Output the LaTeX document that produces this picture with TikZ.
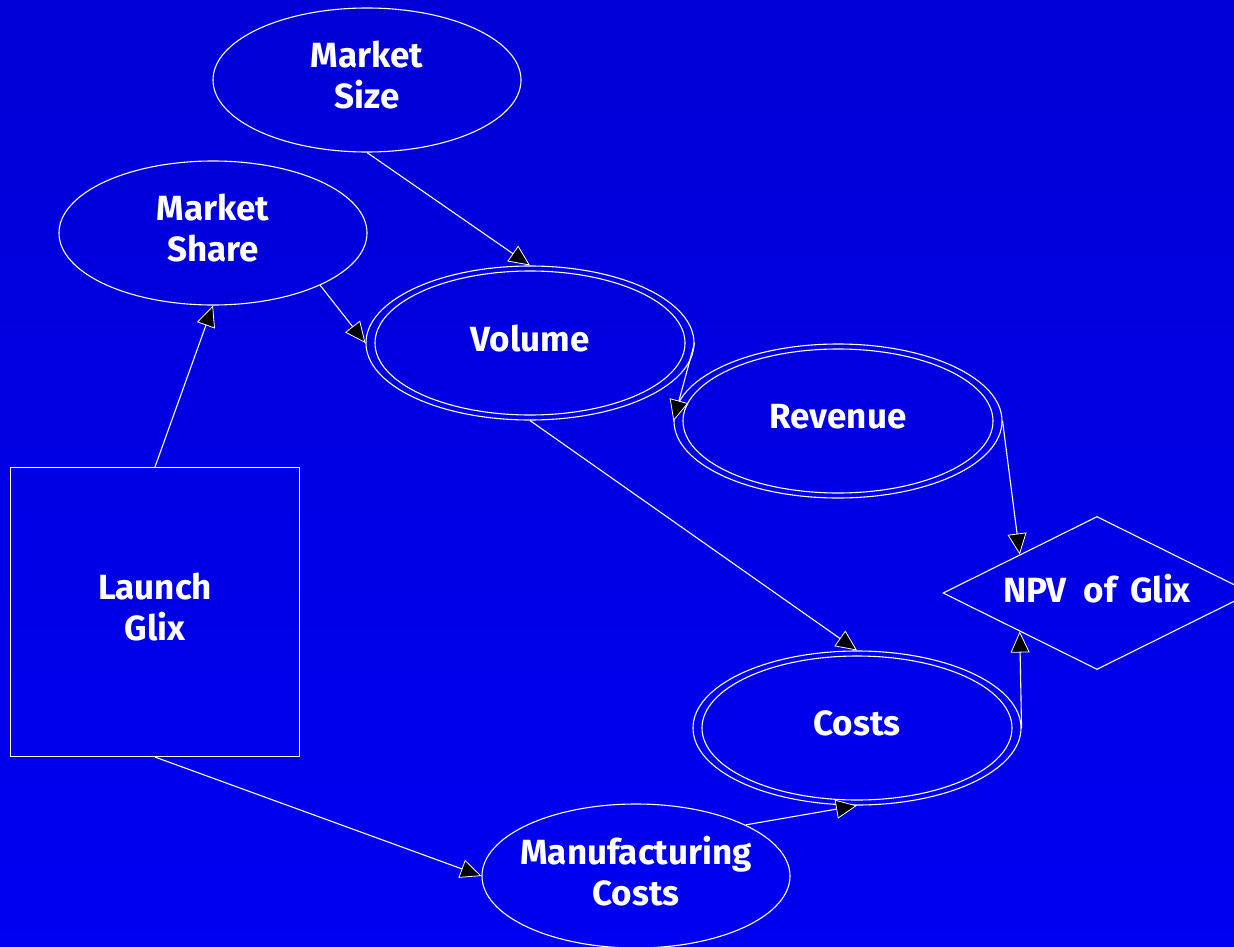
\documentclass[tikz,border=0pt]{standalone}
\usepackage{fontspec}
\setmainfont{Fira Sans}
\usetikzlibrary{shapes.geometric,arrows.meta}
\definecolor{bgtop}{RGB}{0,0,214}
\definecolor{bgbot}{RGB}{0,0,242}
\begin{document}
\begin{tikzpicture}[x=1pt,y=-1pt,
  every node/.style={text=white, font=\fontsize{35}{41}\selectfont\bfseries, align=center, inner sep=0pt, text depth=10pt},
  chance/.style={ellipse, draw=white, line width=1.1pt, minimum width=308pt, minimum height=144pt},
  calc/.style={ellipse, draw=white, line width=1.1pt, minimum width=328pt, minimum height=154pt},
  calcin/.style={ellipse, draw=white, line width=1.1pt, minimum width=310pt, minimum height=144pt},
  decision/.style={rectangle, draw=white, line width=1.1pt, minimum width=289pt, minimum height=289pt},
  valuenode/.style={diamond, draw=white, line width=1.1pt, minimum width=308pt, minimum height=153pt, aspect=2},
  link/.style={draw=white, line width=1.1pt, -{Triangle[length=21pt,width=19pt,fill=black,line width=0.8pt]}}
]
\useasboundingbox (0,0) rectangle (1234,947);
\shade[top color=bgtop, bottom color=bgbot] (0,0) rectangle (1234,947);

\node[chance] (msize) at (367,80) {Market\\Size};
\node[chance] (mshare) at (213,233) {Market\\Share};
\node[calc] (vol) at (530,343) {Volume};
\node[calcin] (volin) at (vol.center) {};
\node[calc] (rev) at (838,421) {Revenue};
\node[calcin] (revin) at (rev.center) {};
\node[calc] (costs) at (857,728) {Costs};
\node[calcin] (costsin) at (costs.center) {};
\node[chance, inner xsep=-12pt] (mfg) at (636,876) {Manufacturing\\Costs};
\node[decision] (launch) at (155,612) {Launch\\Glix};
\node[valuenode] (npv) at (1097,593) {NPV\hspace{9pt} of\hspace{5pt} Glix};

\draw[link] (msize.south) -- (vol.north);
\draw[link] (mshare.-26) -- (vol.west);
\draw[link] (launch.north) -- (mshare.south);
\draw[link] (launch.south) -- (mfg.west);
\draw[link] (vol.east) -- (rev.west);
\draw[link] (vol.south) -- (costs.north);
\draw[link] (rev.east) -- (npv.north west);
\draw[link] (costs.east) -- (npv.south west);
\draw[link] (mfg.25) -- (costs.south);
\end{tikzpicture}
\end{document}
